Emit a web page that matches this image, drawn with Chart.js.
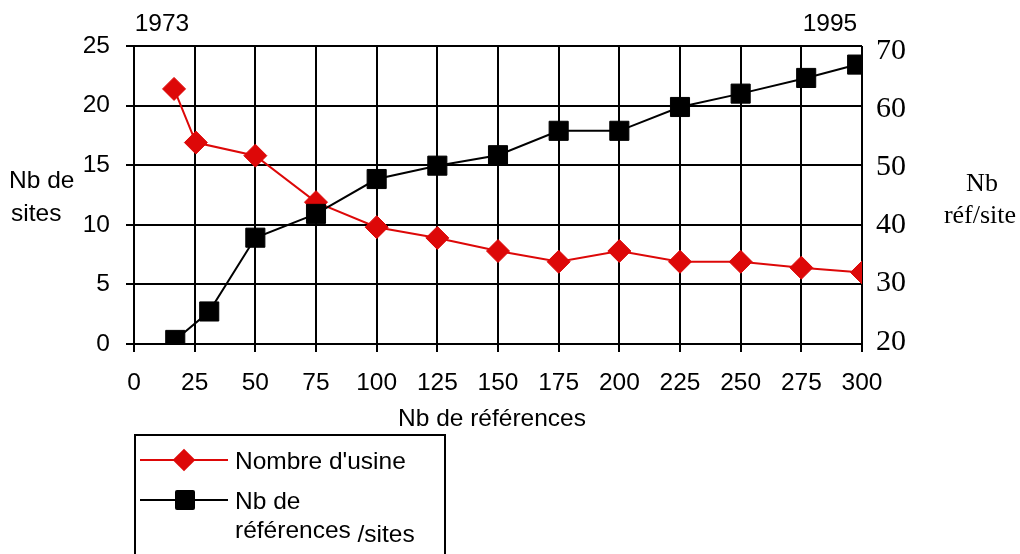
<!DOCTYPE html>
<html lang="fr">
<head>
<meta charset="utf-8">
<title>Nb de sites / Nb réf par site</title>
<script src="https://cdn.jsdelivr.net/npm/chart.js@4"></script>
<style>
    body { margin: 0; background: #fff; }
    #wrap { position: relative; width: 1020px; height: 554px; overflow: hidden; }
    #chart { position: absolute; left: 0; top: 0; }
    .lbl { position: absolute; font-family: "Liberation Sans", Arial, sans-serif; font-size: 24.5px; line-height: 24px; color: #000; white-space: nowrap; }
    .serif { font-family: "Liberation Serif", "Times New Roman", serif; font-size: 26px; }
    .c { transform: translate(-50%, -50%); }
    .l { transform: translate(0, -50%); }
    #legend { position: absolute; left: 134px; top: 434px; width: 308px; height: 140px; border: 2px solid #000; border-bottom: none; }
    .lg-line { position: absolute; height: 2px; }
    .lg-diamond { position: absolute; width: 16px; height: 16px; background: #dd0808; transform: translate(-50%, -50%) rotate(45deg); }
    .lg-square { position: absolute; width: 20px; height: 20px; background: #000; border-radius: 2px; transform: translate(-50%, -50%); }
</style>
</head>
<body>
<div id="wrap">
    <canvas id="chart" width="1020" height="554"></canvas>

    <div class="lbl c" style="left:162px; top:23px;">1973</div>
    <div class="lbl c" style="left:830px; top:23px;">1995</div>
    <div class="lbl l" style="left:9px; top:180px;">Nb de</div>
    <div class="lbl l" style="left:11px; top:213px;">sites</div>
    <div class="lbl serif c" style="left:982px; top:183px;">Nb</div>
    <div class="lbl serif c" style="left:980px; top:215px;">réf/site</div>
    <div class="lbl c" style="left:492px; top:418px;">Nb de références</div>

    <div id="legend"></div>
</div>

<script>
// x = nombre de références
const redX = [16.5, 25.5, 50, 75, 100, 125, 150, 175, 200, 225, 250, 275, 300];
const redY = [21.4, 16.9, 15.8, 11.9, 9.8, 8.9, 7.8, 6.9, 7.8, 6.9, 6.9, 6.4, 6.0];

const blackX = [17, 31, 50, 75, 100, 125, 150, 175, 200, 225, 250, 277, 298];
const blackY = [20.3, 25.2, 37.9, 42.0, 48.0, 50.3, 52.1, 56.3, 56.3, 60.4, 62.7, 65.4, 67.7];

const rightTicks = [20, 30, 40, 50, 60, 70];

const seriesNames = ["Nombre d'usine", 'Nb de', 'références'];

function toPoints(xs, ys) {
    return xs.map((x, i) => ({ x: x, y: ys[i] }));
}

function buildLegend() {
    const box = document.getElementById('legend');
    // offsets are relative to the legend box (left 134, top 434)
    box.innerHTML = `
        <div class="lg-line" style="left:4px; top:23px; width:88px; background:#dd0808;"></div>
        <div class="lg-diamond" style="left:48px; top:24px;"></div>
        <div class="lbl l" style="left:99px; top:25px;">${seriesNames[0]}</div>
        <div class="lg-line" style="left:4px; top:63px; width:88px; background:#000;"></div>
        <div class="lg-square" style="left:49px; top:64px;"></div>
        <div class="lbl l" style="left:99px; top:65px;">${seriesNames[1]}</div>
        <div class="lbl l" style="left:99px; top:94px;">${seriesNames[2]} <span style="position:relative; top:4px;">/sites</span></div>
    `;
}

const gridBlack = { color: '#000', lineWidth: 2, tickLength: 8, tickColor: '#000', tickWidth: 2 };
const sansTicks = { family: '"Liberation Sans", Arial, sans-serif', size: 24.5 };

new Chart(document.getElementById('chart'), {
    type: 'line',
    data: {
        datasets: [{
            label: seriesNames[0],
            data: toPoints(redX, redY),
            yAxisID: 'y',
            borderColor: '#dd0808',
            backgroundColor: '#dd0808',
            borderWidth: 2,
            pointStyle: 'rectRot',
            pointRadius: 11.5,
            pointBorderWidth: 1,
            order: 2
        }, {
            label: seriesNames[1] + ' ' + seriesNames[2] + ' /sites',
            data: toPoints(blackX, blackY),
            yAxisID: 'y1',
            borderColor: '#000',
            backgroundColor: '#000',
            borderWidth: 2,
            pointStyle: 'rect',
            pointRadius: 13.5,
            pointBorderWidth: 1,
            order: 1
        }]
    },
    options: {
        responsive: false,
        animation: false,
        layout: { padding: { top: 46, left: 0, right: 0, bottom: 0 } },
        plugins: {
            legend: { display: false },
            tooltip: { enabled: false }
        },
        scales: {
            x: {
                type: 'linear',
                min: 0,
                max: 300,
                grid: gridBlack,
                border: { color: '#000', width: 2 },
                ticks: { stepSize: 25, color: '#000', font: sansTicks, padding: 17, maxRotation: 0 },
                afterFit: function(scale) { scale.height = 210; }
            },
            y: {
                position: 'left',
                min: 0,
                max: 25,
                grid: gridBlack,
                border: { color: '#000', width: 2 },
                ticks: { stepSize: 5, color: '#000', font: sansTicks, padding: 16 },
                afterFit: function(scale) { scale.width = 134; }
            },
            y1: {
                position: 'right',
                min: 19.6,
                max: 70.9,
                grid: { display: false, drawTicks: false },
                border: { display: false },
                ticks: {
                    color: '#000',
                    padding: 14,
                    font: { family: '"Liberation Serif", "Times New Roman", serif', size: 30 }
                },
                afterBuildTicks: function(scale) {
                    scale.ticks = rightTicks.map(v => ({ value: v }));
                },
                afterFit: function(scale) { scale.width = 158; }
            }
        }
    }
});

buildLegend();
</script>
</body>
</html>
